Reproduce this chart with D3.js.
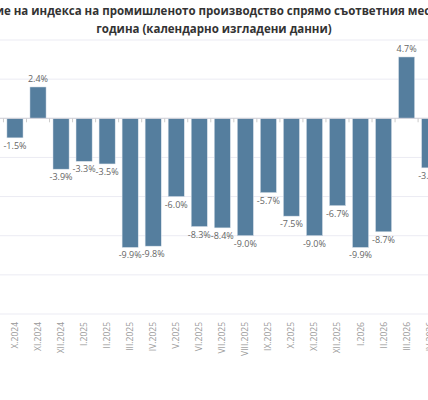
<!DOCTYPE html>
<html>
<head>
<meta charset="utf-8">
<script src="https://cdn.jsdelivr.net/npm/d3@7"></script>
<style>
  body { margin: 0; background: #fff; overflow: hidden; }
  text { font-family: "Open Sans", "Noto Sans", sans-serif; }
</style>
</head>
<body>
<svg id="chart" width="428" height="400"></svg>
<script>
// months shown and year-on-year change, %
const months = ["X.2024", "XI.2024", "XII.2024", "I.2025", "II.2025", "III.2025", "IV.2025",
    "V.2025", "VI.2025", "VII.2025", "VIII.2025", "IX.2025", "X.2025", "XI.2025", "XII.2025",
    "I.2026", "II.2026", "III.2026", "IV.2026"];
const values = [-1.5, 2.4, -3.9, -3.3, -3.5, -9.9, -9.8, -6.0, -8.3, -8.4, -9.0, -5.7, -7.5,
    -9.0, -6.7, -9.9, -8.7, 4.7, -3.8];
const yTicks = [6, 3, 0, -3, -6, -9, -12, -15];

let svg = d3.select("#chart");

let x = d3.scaleBand().domain(months).range([0, 23.4 * months.length]).padding(0.3);
let y = d3.scaleLinear().domain([6, -15]).range([40, 314]);

// grid
svg.append("g").selectAll("line").data(yTicks).join("line")
    .attr("x1", 0).attr("x2", 428)
    .attr("y1", d => y(d)).attr("y2", d => y(d))
    .attr("stroke", "#ebebf3").attr("stroke-width", 1);

// bars
svg.append("g").selectAll("rect").data(values).join("rect")
    .attr("x", (d, i) => x(months[i]))
    .attr("width", x.bandwidth())
    .attr("y", d => y(Math.max(0, d)))
    .attr("height", d => Math.abs(y(d) - y(0)))
    .attr("fill", "#557e9e")
    .attr("stroke", "#dfe6ee").attr("stroke-width", 0.5);

// zero axis with ticks at category boundaries
svg.append("line").attr("x1", 0).attr("x2", 428)
    .attr("y1", y(0)).attr("y2", y(0)).attr("stroke", "#d0d0d8");
svg.append("g").selectAll("line").data(months).join("line")
    .attr("x1", d => x(d) - x.step() * x.paddingInner() / 2)
    .attr("x2", d => x(d) - x.step() * x.paddingInner() / 2)
    .attr("y1", y(0)).attr("y2", y(0) + 4)
    .attr("stroke", "#ccc");

// value labels
svg.append("g").selectAll("text").data(values).join("text")
    .attr("x", (d, i) => x(months[i]) + x.bandwidth() / 2)
    .attr("y", d => d >= 0 ? y(d) - 5 : y(d) + 11)
    .attr("text-anchor", "middle")
    .attr("font-size", 9).attr("fill", "#666")
    .text(d => d.toFixed(1) + "%");

// month labels
svg.append("g").selectAll("text").data(months).join("text")
    .attr("transform", d => "translate(" + (x(d) + x.bandwidth() / 2 + 3) + ",322) rotate(-90)")
    .attr("text-anchor", "end")
    .attr("font-size", 8.5).attr("fill", "#999")
    .text(d => d);

// title
svg.append("text").attr("x", 214).attr("y", 15).attr("text-anchor", "middle")
    .attr("font-size", 11.5).attr("font-weight", "bold").attr("fill", "#333")
    .text("Годишно изменение на индекса на промишленото производство спрямо съответния месец на предходната");
svg.append("text").attr("x", 214).attr("y", 33).attr("text-anchor", "middle")
    .attr("font-size", 11.5).attr("font-weight", "bold").attr("fill", "#333")
    .text("година (календарно изгладени данни)");
</script>
</body>
</html>
